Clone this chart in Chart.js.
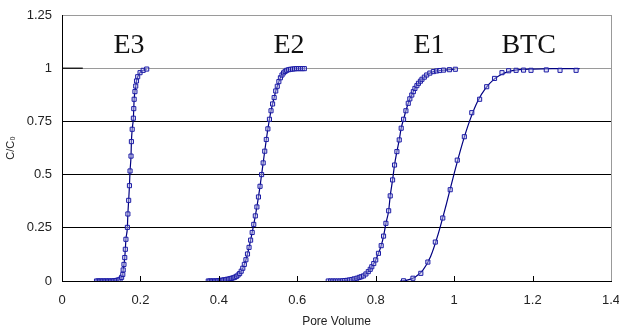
<!DOCTYPE html>
<html>
<head>
<meta charset="utf-8">
<script src="https://cdn.jsdelivr.net/npm/chart.js@4"></script>
<style>
  html, body { margin: 0; padding: 0; background: #fff; }
  #wrap { width: 619px; height: 329px; }
</style>
</head>
<body>
<div id="wrap"><canvas id="c" width="619" height="329"></canvas></div>
<script>
// Breakthrough curves (pore volume vs C/C0)
const e3Pv = [0.088,0.092,0.096,0.100,0.104,0.108,0.112,0.116,0.120,0.124,0.128,0.132,0.136,0.140,0.144,0.148,0.152,0.155,0.156,0.158,0.160,0.1615,0.163,0.1667,0.168,0.170,0.172,0.1735,0.176,0.177,0.179,0.182,0.183,0.184,0.186,0.188,0.190,0.193,0.199,0.207,0.216];
const e3Conc = [0,0,0,0,0,0,0,0,0,0,0,0.001,0.002,0.003,0.005,0.008,0.017,0.031,0.052,0.078,0.110,0.149,0.196,0.252,0.315,0.379,0.448,0.517,0.587,0.655,0.713,0.765,0.810,0.854,0.890,0.916,0.940,0.960,0.979,0.990,0.996];

const e2Pv = [0.373,0.377,0.381,0.385,0.389,0.393,0.397,0.401,0.405,0.409,0.413,0.417,0.421,0.425,0.429,0.433,0.437,0.441,0.445,0.449,0.453,0.457,0.461,0.465,0.469,0.473,0.477,0.481,0.485,0.489,0.493,0.497,0.501,0.505,0.509,0.513,0.517,0.521,0.525,0.529,0.533,0.537,0.541,0.545,0.549,0.553,0.557,0.561,0.565,0.569,0.573,0.578,0.583,0.588,0.593,0.598,0.603,0.608,0.613,0.618];
const e2Conc = [0,0,0,0,0,0,0.001,0.002,0.003,0.004,0.005,0.006,0.008,0.009,0.011,0.013,0.015,0.018,0.022,0.028,0.035,0.046,0.060,0.078,0.100,0.127,0.158,0.192,0.228,0.266,0.306,0.348,0.395,0.445,0.500,0.555,0.610,0.665,0.715,0.760,0.800,0.832,0.862,0.893,0.915,0.937,0.955,0.968,0.978,0.985,0.990,0.993,0.995,0.996,0.997,0.998,0.998,0.998,0.998,0.998];

const e1Pv = [0.679,0.685,0.691,0.697,0.703,0.709,0.715,0.721,0.727,0.733,0.739,0.745,0.752,0.758,0.763,0.769,0.775,0.781,0.786,0.790,0.795,0.800,0.807,0.814,0.820,0.826,0.833,0.837,0.843,0.848,0.854,0.860,0.865,0.871,0.877,0.883,0.887,0.892,0.896,0.900,0.905,0.909,0.914,0.918,0.924,0.930,0.938,0.947,0.955,0.963,0.973,0.988,1.003];
const e1Conc = [0,0,0,0,0,0,0.001,0.002,0.003,0.005,0.007,0.010,0.013,0.017,0.020,0.024,0.033,0.044,0.055,0.067,0.082,0.099,0.130,0.166,0.211,0.271,0.330,0.400,0.475,0.545,0.608,0.663,0.718,0.760,0.800,0.835,0.856,0.874,0.890,0.905,0.918,0.929,0.939,0.948,0.958,0.968,0.977,0.984,0.987,0.989,0.991,0.993,0.995];

const btcPv = [0.871,0.895,0.915,0.933,0.952,0.971,0.990,1.008,1.026,1.045,1.065,1.083,1.103,1.122,1.139,1.158,1.177,1.196,1.235,1.270,1.311];
const btcConc = [0.001,0.013,0.036,0.089,0.183,0.296,0.429,0.568,0.678,0.791,0.854,0.913,0.952,0.979,0.988,0.990,0.991,0.990,0.992,0.990,0.990];

// fitted BTC curve
const btcFitPv = [0.862,0.880,0.900,0.920,0.940,0.960,0.980,1.000,1.020,1.040,1.060,1.080,1.100,1.120,1.140,1.160,1.200,1.250,1.320];
const btcFitConc = [0,0.004,0.018,0.050,0.115,0.225,0.360,0.505,0.640,0.755,0.845,0.905,0.945,0.970,0.985,0.992,0.996,0.998,0.998];

// short C0 reference line at the left
const inputPv = [0, 0.053];
const inputConc = [1, 1];

const xTicks = [0, 0.2, 0.4, 0.6, 0.8, 1, 1.2, 1.4];
const yTicks = [0, 0.25, 0.5, 0.75, 1, 1.25];

const curveLabels = [
  { text: 'E3', pv: 0.171 },
  { text: 'E2', pv: 0.579 },
  { text: 'E1', pv: 0.936 },
  { text: 'BTC', pv: 1.19 }
];

const zip = (xs, ys) => xs.map((x, i) => ({ x: x, y: ys[i] }));

const NAVY = '#000080';

function fitLine(pv, conc, color) {
  return {
    type: 'line', data: zip(pv, conc), borderColor: color || NAVY, borderWidth: 1.2,
    pointRadius: 0, fill: false, cubicInterpolationMode: 'monotone'
  };
}
function markers(pv, conc) {
  return {
    type: 'scatter', data: zip(pv, conc), showLine: false,
    pointStyle: 'rect', pointRadius: 2.9, pointBorderWidth: 1,
    pointBorderColor: '#1c1ca6', pointBackgroundColor: 'rgba(200,200,240,0.45)'
  };
}

const extras = {
  id: 'extras',
  afterDatasetsDraw(chart) {
    const { ctx, scales: { x, y }, chartArea } = chart;
    ctx.save();
    // right border
    ctx.strokeStyle = '#999';
    ctx.lineWidth = 1;
    ctx.beginPath();
    ctx.moveTo(Math.round(chartArea.right) + 0.5, chartArea.top);
    ctx.lineTo(Math.round(chartArea.right) + 0.5, chartArea.bottom);
    ctx.stroke();
    // inward tick marks on the x axis
    ctx.strokeStyle = '#000';
    xTicks.forEach(v => {
      if (v === 0 || v === 1.4) return;
      const px = Math.round(x.getPixelForValue(v)) + 0.5;
      ctx.beginPath();
      ctx.moveTo(px, chartArea.bottom);
      ctx.lineTo(px, chartArea.bottom - 5);
      ctx.stroke();
    });
    // curve names
    ctx.fillStyle = '#111';
    ctx.font = '28px "Liberation Serif", "Times New Roman", serif';
    ctx.textAlign = 'center';
    ctx.textBaseline = 'middle';
    curveLabels.forEach(l => {
      ctx.fillText(l.text, x.getPixelForValue(l.pv), y.getPixelForValue(1.104));
    });
    ctx.restore();
  }
};

new Chart(document.getElementById('c'), {
  data: {
    datasets: [
      markers(e3Pv, e3Conc), fitLine(e3Pv, e3Conc),
      markers(e2Pv, e2Conc), fitLine(e2Pv, e2Conc),
      markers(e1Pv, e1Conc), fitLine(e1Pv, e1Conc),
      markers(btcPv, btcConc), fitLine(btcFitPv, btcFitConc),
      fitLine(inputPv, inputConc, '#000')
    ]
  },
  options: {
    responsive: false,
    animation: false,
    layout: { padding: { top: 15, right: 8, left: 0, bottom: 0 } },
    plugins: { legend: { display: false }, tooltip: { enabled: false } },
    scales: {
      x: {
        type: 'linear', min: 0, max: 1.4,
        afterFit: s => { s.height = 48; s.paddingLeft = 0; s.paddingRight = 0; },
        afterBuildTicks: s => { s.ticks = xTicks.map(v => ({ value: v })); },
        grid: { drawOnChartArea: false, drawTicks: false },
        border: { color: '#000', width: 1 },
        ticks: {
          padding: 12, color: '#222', font: { family: '"Liberation Sans", Arial', size: 13 },
          callback: v => String(v)
        },
        title: {
          display: true, text: 'Pore Volume', color: '#222',
          font: { family: '"Liberation Sans", Arial', size: 12 }, padding: { top: 0, bottom: 0 }
        }
      },
      y: {
        type: 'linear', min: 0, max: 1.25,
        afterFit: s => { s.width = 62; s.paddingTop = 0; s.paddingBottom = 0; },
        afterBuildTicks: s => { s.ticks = yTicks.map(v => ({ value: v })); },
        grid: {
          drawTicks: false,
          color: c => (c.tick && c.tick.value >= 1) ? '#9a9a9a' : '#000',
          lineWidth: 1
        },
        border: { color: '#000', width: 1 },
        ticks: {
          padding: 10, color: '#222', font: { family: '"Liberation Sans", Arial', size: 13 },
          callback: v => String(v)
        },
        title: {
          display: true, text: 'C/C\u2080', color: '#222',
          font: { family: '"Liberation Sans", Arial', size: 11 }, padding: { top: 4, bottom: 0 }
        }
      }
    }
  },
  plugins: [extras]
});
</script>
</body>
</html>
